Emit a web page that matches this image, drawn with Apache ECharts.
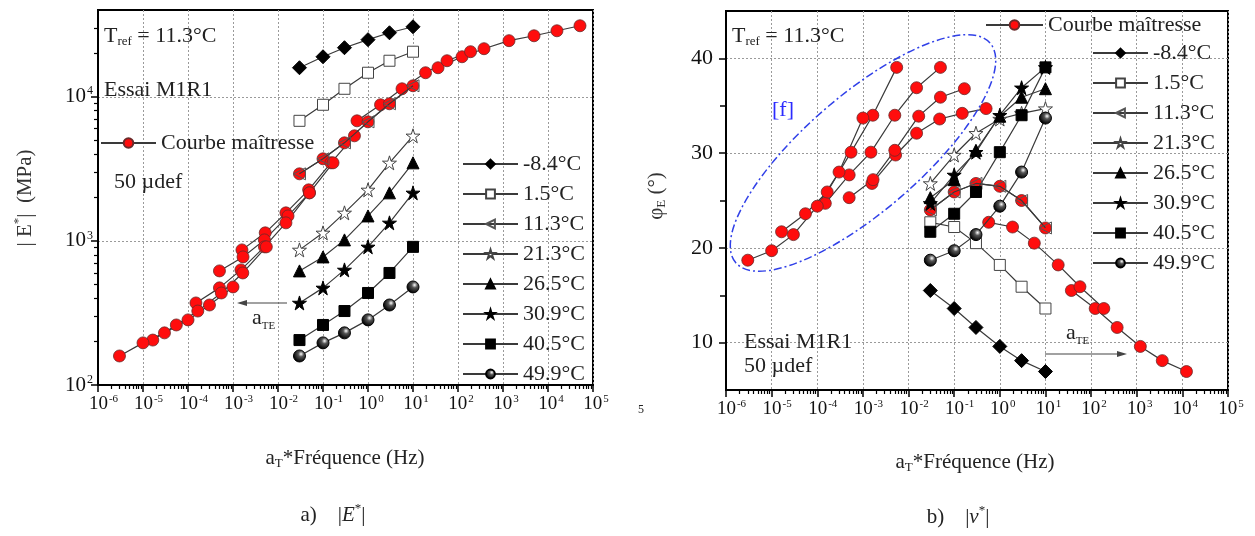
<!DOCTYPE html>
<html><head><meta charset="utf-8">
<script src="https://cdn.jsdelivr.net/npm/echarts@6/dist/echarts.min.js"></script>
<style>html,body{margin:0;padding:0;background:#fff}#c{width:1255px;height:536px}</style>
</head><body><div id="c"></div>
<script>
// ---------- DATA ----------
const temps = ['-8.4°C','1.5°C','11.3°C','21.3°C','26.5°C','30.9°C','40.5°C','49.9°C'];
const masterName = 'Courbe maîtresse';
const freqs = [0.03, 0.1, 0.3, 1, 3, 10];

// |E*| (MPa) per temperature
const E_m8_4 = [15900, 18950, 21900, 24900, 27800, 30600];
const E_1_5  = [6810, 8800, 11360, 14680, 17780, 20540];
const E_11_3 = [2920, 3710, 4790, 6700, 8940, 11920];
const E_21_3 = [866, 1137, 1565, 2260, 3480, 5360];
const E_26_5 = [619, 774, 1016, 1490, 2155, 3480];
const E_30_9 = [371, 472, 629, 909, 1334, 2155];
const E_40_5 = [205, 261, 326, 435, 599, 909];
const E_49_9 = [159, 196, 230, 283, 359, 479];

// master-curve points of the -8.4°C segment on the |E*| plot (as read)
const mE_m8_4   = [15900, 18950, 21550, 24500, 26500, 28700, 31100];
const sf_m8_4_E = [36, 123, 378, 1360, 4890, 15800, 51400];

// phase angle (°) per temperature
const phi_m8_4 = [15.5, 13.6, 11.6, 9.6, 8.1, 6.95];
const phi_1_5  = [22.7, 22.2, 20.5, 18.2, 15.9, 13.6];
const phi_11_3 = [24.0, 25.9, 26.8, 26.5, 25.0, 22.1];
const phi_21_3 = [26.8, 29.8, 32.1, 33.6, 34.2, 34.7];
const phi_26_5 = [25.3, 27.2, 30.3, 33.9, 35.9, 36.8];
const phi_30_9 = [24.7, 27.7, 30.1, 34.0, 36.9, 39.05];
const phi_40_5 = [21.7, 23.6, 25.9, 30.1, 34.0, 39.05];
const phi_49_9 = [18.7, 19.7, 21.4, 24.4, 28.0, 33.7];

// shifted frequencies (aT * f) of the master curve
const sf_m8_4_phi = [37, 123, 372, 1200, 3630, 12300];
const sf_1_5  = [0.57, 1.9, 5.7, 19, 57, 190];
const sf_11_3 = [0.03, 0.1, 0.3, 1, 3, 10];
const sf_21_3 = [1.58e-3, 5.2e-3, 1.5e-2, 4.8e-2, 0.15, 0.5];
const sf_26_5 = [5e-4, 1.67e-3, 5e-3, 1.67e-2, 5e-2, 0.167];
const sf_30_9 = [1.5e-4, 5e-4, 1.5e-3, 5e-3, 1.5e-2, 5e-2];
const sf_40_5 = [1.65e-5, 5.5e-5, 1.65e-4, 5.5e-4, 1.65e-3, 5.5e-3];
const sf_49_9 = [3e-6, 1e-5, 3e-5, 1e-4, 3e-4, 1e-3];

// axis ticks
const xDecades = [1e-6,1e-5,1e-4,1e-3,1e-2,1e-1,1,10,100,1e3,1e4,1e5];
const yDecadesE = [100, 1000, 10000];
const yTicksPhi = [10, 20, 30, 40];
const yMinorPhi = [15, 25, 35];

// ---------- BUILD ----------
const xMinor = [];
for (let i = 0; i < xDecades.length - 1; i++) for (let k = 2; k <= 9; k++) xMinor.push(+(xDecades[i] * k).toPrecision(3));
const yMinorE = [];
for (const d of [100, 1000, 10000]) for (let k = 2; k <= 9; k++) if (d * k < 40000) yMinorE.push(d * k);

const SERIF = 'Liberation Serif';
const LINE = '#3a3a3a';
const triLeft = 'path://M0,5L10,0L10,10Z';
const starP = 'path://M50,0L61.2,34.5L97.6,34.5L68.2,55.9L79.4,90.5L50,69.1L20.6,90.5L31.8,55.9L2.4,34.5L38.8,34.5Z';
const ball = {type:'radial', x:0.62, y:0.35, r:0.62, colorStops:[{offset:0,color:'#ffffff'},{offset:0.35,color:'#555'},{offset:1,color:'#000'}]};

const tStyle = {
  '-8.4°C': {symbol:'diamond', size:14, color:'#000', border:'#000'},
  '1.5°C':  {symbol:'rect', size:11, color:'#fff', border:'#444'},
  '11.3°C': {symbol:triLeft, size:12, color:'rgba(255,255,255,0)', border:'#555'},
  '21.3°C': {symbol:starP, size:14, color:'#fff', border:'#444'},
  '26.5°C': {symbol:'triangle', size:12, color:'#000', border:'#000'},
  '30.9°C': {symbol:starP, size:14, color:'#000', border:'#000'},
  '40.5°C': {symbol:'rect', size:11, color:'#000', border:'#000'},
  '49.9°C': {symbol:'circle', size:12, color:ball, border:'#000'}
};

function pairs(xs, ys){ return xs.map((x,i)=>[x, ys[i]]); }

function tempSeries(name, xs, ys, xi, yi){
  const s = tStyle[name];
  return {type:'line', name, xAxisIndex:xi, yAxisIndex:yi, data:pairs(xs, ys), z:4,
    symbol:s.symbol, symbolSize:s.size, showSymbol:true, animation:false,
    lineStyle:{color:LINE, width:1.2},
    itemStyle:{color:s.color, borderColor:s.border, borderWidth:1}};
}
function masterSeries(xs, ys, xi, yi){
  return {type:'line', name:masterName, xAxisIndex:xi, yAxisIndex:yi, data:pairs(xs, ys), z:3,
    symbol:'circle', symbolSize:12, animation:false,
    lineStyle:{color:LINE, width:1.2},
    itemStyle:{color:'#ff0d0d', borderColor:'#6a2a2a', borderWidth:0.8}};
}

const series = [];
// left chart: master curve segments
[[sf_m8_4_E,mE_m8_4],[sf_1_5,E_1_5],[sf_11_3,E_11_3],[sf_21_3,E_21_3],[sf_26_5,E_26_5],[sf_30_9,E_30_9],[sf_40_5,E_40_5],[sf_49_9,E_49_9]]
  .forEach(([xs,ys]) => series.push(masterSeries(xs, ys, 0, 0)));
[E_m8_4,E_1_5,E_11_3,E_21_3,E_26_5,E_30_9,E_40_5,E_49_9]
  .forEach((ys,i) => series.push(tempSeries(temps[i], freqs, ys, 0, 0)));
// right chart
[[sf_m8_4_phi,phi_m8_4],[sf_1_5,phi_1_5],[sf_11_3,phi_11_3],[sf_21_3,phi_21_3],[sf_26_5,phi_26_5],[sf_30_9,phi_30_9],[sf_40_5,phi_40_5],[sf_49_9,phi_49_9]]
  .forEach(([xs,ys]) => series.push(masterSeries(xs, ys, 2, 2)));
[phi_m8_4,phi_1_5,phi_11_3,phi_21_3,phi_26_5,phi_30_9,phi_40_5,phi_49_9]
  .forEach((ys,i) => series.push(tempSeries(temps[i], freqs, ys, 2, 2)));

const powRich = {
  bn:{fontFamily:SERIF, fontSize:19, color:'#111', padding:[0,0,0,11]},
  bp:{fontFamily:SERIF, fontSize:19, color:'#111', padding:[0,0,0,6]},
  b:{fontFamily:SERIF, fontSize:21, color:'#111'},
  e:{fontFamily:SERIF, fontSize:11, color:'#111', padding:[0,0,10,1]},
  ey:{fontFamily:SERIF, fontSize:12, color:'#111', padding:[0,0,11,1]}
};
function xPowFmt(v){ const e = Math.round(Math.log10(v)); return (e<0?'{bn|10}':'{bp|10}') + '{e|' + e + '}'; }
function yPowFmt(v){ const e = Math.round(Math.log10(v)); return '{b|10}{ey|' + e + '}'; }

const gridLine = {show:true, lineStyle:{color:'#9a9a9a', type:[2,2], width:1}};
const axisLine = {show:true, lineStyle:{color:'#000', width:2}};

function xMain(gi){
  return {type:'log', logBase:10, gridIndex:gi, min:1e-6, max:1e5, position:'bottom',
    axisLine, axisTick:{show:true, customValues:xDecades, length:7, lineStyle:{color:'#000', width:1.5}},
    axisLabel:{show:true, customValues:xDecades, formatter:xPowFmt, rich:powRich, margin:9},
    splitLine:gridLine, minorTick:{show:false}};
}
function xMinorAx(gi){
  return {type:'log', logBase:10, gridIndex:gi, min:1e-6, max:1e5, position:'bottom', offset:0,
    axisLine:{show:false}, axisTick:{show:true, customValues:xMinor, length:4, lineStyle:{color:'#000', width:1.2}},
    axisLabel:{show:false}, splitLine:{show:false}};
}
const legendText = {fontFamily:SERIF, fontSize:22, color:'#222'};

const option = {
  backgroundColor:'#fff',
  animation:false,
  grid:[
    {left:98, top:10, width:495, height:375, show:true, borderColor:'#000', borderWidth:2, backgroundColor:'transparent'},
    {left:726, top:11, width:502, height:379, show:true, borderColor:'#000', borderWidth:2, backgroundColor:'transparent'}
  ],
  xAxis:[xMain(0), xMinorAx(0), xMain(1), xMinorAx(1)],
  yAxis:[
    {type:'log', logBase:10, gridIndex:0, min:100, max:40000, position:'left', axisLine,
      axisTick:{show:true, customValues:yDecadesE, length:7, lineStyle:{color:'#000', width:1.5}},
      axisLabel:{show:true, customValues:yDecadesE, formatter:yPowFmt, rich:powRich, margin:5},
      splitLine:gridLine},
    {type:'log', logBase:10, gridIndex:0, min:100, max:40000, position:'left', offset:0, axisLine:{show:false},
      axisTick:{show:true, customValues:yMinorE, length:4, lineStyle:{color:'#000', width:1.2}},
      axisLabel:{show:false}, splitLine:{show:false}},
    {type:'value', gridIndex:1, min:5, max:45, position:'left', axisLine,
      axisTick:{show:true, customValues:yTicksPhi, length:7, lineStyle:{color:'#000', width:1.5}},
      axisLabel:{show:true, customValues:yTicksPhi, fontFamily:SERIF, fontSize:22, color:'#111', margin:13},
      splitLine:gridLine},
    {type:'value', gridIndex:1, min:5, max:45, position:'left', offset:0, axisLine:{show:false},
      axisTick:{show:true, customValues:yMinorPhi, length:6, lineStyle:{color:'#000', width:1.5}},
      axisLabel:{show:false}, splitLine:{show:false}}
  ],
  legend:[
    {data:[masterName], left:100, top:132, padding:0, itemWidth:55, itemHeight:12, selectedMode:false, textStyle:legendText},
    {data:temps, orient:'vertical', left:462, top:153, padding:0, itemWidth:55, itemHeight:11, itemGap:8, selectedMode:false, textStyle:legendText},
    {data:[masterName], left:985, top:14, padding:0, itemWidth:57, itemHeight:12, selectedMode:false, textStyle:legendText},
    {data:temps, orient:'vertical', left:1092, top:42, padding:0, itemWidth:55, itemHeight:11, itemGap:8, selectedMode:false, textStyle:legendText}
  ],
  series,
  graphic:[]
};

const txt = (x, y, text, rich, extra) => Object.assign({type:'text', x, y, z:50, silent:true,
  style:Object.assign({text, rich, fill:'#222', font:'22px "Liberation Serif"', textVerticalAlign:'middle'}, extra||{})});
const tref = {t:{fontFamily:SERIF, fontSize:22, color:'#222'}, r:{fontFamily:SERIF, fontSize:13, color:'#222', padding:[12,0,0,0]}};
const aTE = {a:{fontFamily:SERIF, fontSize:22, color:'#222'}, s:{fontFamily:SERIF, fontSize:11, color:'#222', padding:[16,0,0,0]}};
const axT = {n:{fontFamily:SERIF, fontSize:21, color:'#222'}, s:{fontFamily:SERIF, fontSize:13, color:'#222', padding:[12,0,0,0]},
             u:{fontFamily:SERIF, fontSize:13, color:'#222', padding:[0,0,12,0]},
             i:{fontFamily:SERIF, fontSize:21, fontStyle:'italic', color:'#222'}};

option.graphic = [
  // left panel texts
  txt(104, 36, '{t|T}{r|ref}{t| = 11.3°C}', tref),
  txt(104, 90, 'Essai M1R1'),
  txt(114, 182, '50 µdef'),
  {type:'line', z:50, shape:{x1:287, y1:303, x2:242, y2:303}, style:{stroke:'#444', lineWidth:1.2}},
  {type:'polygon', z:50, shape:{points:[[237,303],[247,300],[247,306]]}, style:{fill:'#444'}},
  txt(252, 318, '{a|a}{s|TE}', aTE),
  // right panel texts
  txt(732, 36, '{t|T}{r|ref}{t| = 11.3°C}', tref),
  txt(772, 110, '[f]', null, {fill:'#2b2bff'}),
  txt(744, 342, 'Essai M1R1'),
  txt(744, 366, '50 µdef'),
  {type:'line', z:50, shape:{x1:1045, y1:354, x2:1121, y2:354}, style:{stroke:'#444', lineWidth:1.2}},
  {type:'polygon', z:50, shape:{points:[[1127,354],[1117,351],[1117,357]]}, style:{fill:'#444'}},
  txt(1066, 333, '{a|a}{s|TE}', aTE),
  // ellipse [f]
  {type:'ellipse', z:40, x:863, y:153, rotation:40.8*Math.PI/180, silent:true,
    shape:{cx:0, cy:0, rx:168, ry:58},
    style:{fill:'none', stroke:'#3040e8', lineWidth:1.5, lineDash:[8,3,2,3]}},
  // axis titles
  txt(345, 458, '{n|a}{s|T}{n|*Fréquence (Hz)}', axT, {textAlign:'center'}),
  txt(975, 462, '{n|a}{s|T}{n|*Fréquence (Hz)}', axT, {textAlign:'center'}),
  {type:'text', x:25, y:198, rotation:Math.PI/2, z:50, style:{text:'{n|| E}{u|*}{n||  (MPa)}', rich:axT, textAlign:'center', textVerticalAlign:'middle', fill:'#333'}},
  {type:'text', x:656, y:196, rotation:Math.PI/2, z:50, style:{text:'{n|φ}{s|E}{n| (°)}', rich:axT, textAlign:'center', textVerticalAlign:'middle', fill:'#333'}},
  // captions
  txt(333, 515, '{n|a)    |}{i|E}{u|*}{n||}', axT, {textAlign:'center'}),
  txt(958, 517, '{n|b)    |}{i|v}{u|*}{n||}', axT, {textAlign:'center'}),
  txt(641, 410, '5', null, {font:'12px "Liberation Serif"', textAlign:'center'})
];

const chart = echarts.init(document.getElementById('c'));
chart.setOption(option);
</script>
</body></html>
